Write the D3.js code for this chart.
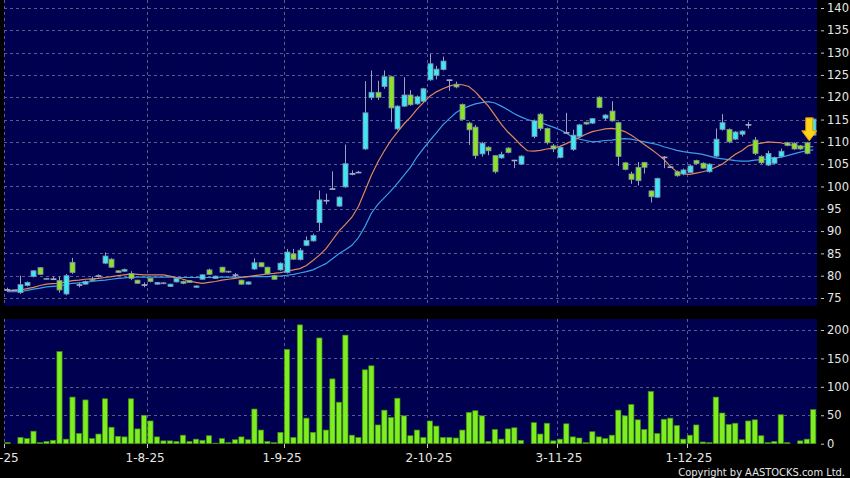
<!DOCTYPE html>
<html>
<head>
<meta charset="utf-8">
<script src="https://cdn.jsdelivr.net/npm/d3@7"></script>
<style>
body { margin: 0; background: #000; }
svg { display: block; font-family: "DejaVu Sans", sans-serif; }
</style>
</head>
<body>
<div id="chart"></div>
<script>
// x axis date labels and the bar index they sit on
var dateLabels = ["2-7-25", "1-8-25", "1-9-25", "2-10-25", "3-11-25", "1-12-25"];
var dateIndex = [0, 22, 43, 65, 85, 105];

var priceTicks = [75, 80, 85, 90, 95, 100, 105, 110, 115, 120, 125, 130, 135, 140];
var volTicks = [0, 50, 100, 150, 200];

// daily candles (null = no trading)
var openP = [76.9,76.8,76.2,77.8,79.8,81.8,79.2,79.3,78.9,75.9,
    83.0,78.0,78.1,79.2,80.0,82.8,83.7,81.1,81.0,80.5,
    79.0,78.0,79.4,78.1,78.4,77.6,78.6,78.7,78.9,77.4,
    79.2,81.3,79.4,81.9,81.0,80.2,79.0,78.1,81.5,82.9,
    81.9,80.0,81.3,80.7,84.9,83.6,86.8,87.8,91.9,96.8,
    99.5,95.6,99.9,102.9,103.2,108.4,119.9,121.1,122.4,124.6,
    112.9,118.0,120.5,118.5,119.1,123.9,124.9,126.2,123.8,122.9,
    118.4,114.2,113.3,107.3,108.8,106.9,106.4,108.6,105.8,105.0,
    null,111.2,116.2,113.0,109.1,106.5,112.0,108.3,111.2,114.4,
    114.2,120.0,115.3,116.9,114.3,105.3,102.8,104.3,105.4,99.0,
    97.6,106.6,104.4,103.3,102.8,103.1,105.8,105.2,103.3,106.8,
    112.8,112.8,110.6,111.7,113.9,110.4,106.7,104.8,105.2,106.7,
    109.8,109.7,109.1,109.8,111.5];
var highP = [77.3,76.8,80.0,78.7,81.2,81.9,79.5,79.8,79.8,80.4,
    84.0,78.4,78.9,79.8,80.3,85.2,83.9,81.2,81.6,81.0,
    79.1,78.5,79.5,78.6,78.6,78.2,79.5,78.9,79.0,77.8,
    80.3,81.6,80.0,82.0,81.1,80.6,79.1,78.7,83.9,83.0,
    82.0,80.2,83.0,86.0,86.0,86.2,88.8,89.4,99.1,98.4,
    103.4,97.8,109.4,103.6,103.5,123.6,126.0,123.7,126.0,124.8,
    118.2,124.5,121.6,120.4,122.1,129.7,127.0,129.1,124.0,123.5,
    118.6,114.5,113.8,110.0,109.0,107.0,107.8,108.8,106.0,107.0,
    null,115.0,116.5,113.2,109.5,109.0,116.5,112.7,114.0,114.5,
    115.3,120.2,116.2,119.1,114.5,105.5,103.3,105.5,105.5,99.1,
    102.0,106.8,104.6,103.6,104.0,104.8,106.0,105.4,105.2,113.0,
    116.2,113.0,112.4,112.6,114.5,111.1,107.0,108.0,106.7,108.5,
    110.0,109.9,109.3,110.0,115.4];
var lowP = [76.4,76.8,75.9,77.6,79.6,80.2,79.1,79.0,76.2,75.6,
    80.4,77.4,78.0,78.8,79.6,82.6,81.8,80.6,80.9,79.0,
    78.2,77.4,78.5,78.0,78.1,77.5,78.5,78.1,78.4,77.3,
    79.1,80.2,79.3,80.7,80.7,79.6,78.0,78.0,81.3,81.9,
    80.3,79.1,81.1,80.5,83.5,83.4,86.6,87.6,90.0,96.0,
    99.4,95.4,99.7,102.5,103.0,108.2,119.4,119.4,121.9,114.4,
    112.7,117.8,118.1,118.3,118.9,123.7,124.0,126.0,121.4,122.0,
    114.8,109.3,106.2,106.7,107.0,102.9,106.2,107.4,104.1,104.8,
    null,110.8,112.5,109.4,107.7,106.3,111.8,108.0,110.9,113.8,
    114.0,117.5,114.8,114.5,104.6,103.6,100.6,100.2,102.9,96.4,
    97.4,104.1,104.2,102.2,102.5,103.0,104.9,104.0,103.1,106.5,
    112.5,109.7,110.4,111.2,113.0,107.0,105.0,104.6,105.0,106.5,
    109.0,108.2,108.2,107.2,111.3];
var closeP = [76.8,76.8,78.0,78.5,81.1,80.3,79.4,79.2,76.8,80.0,
    80.7,78.0,78.7,78.9,80.0,84.4,81.9,80.7,81.4,79.4,
    78.3,78.0,78.7,78.5,78.2,78.1,79.4,78.3,78.5,77.7,
    80.2,80.3,79.9,80.8,80.8,80.2,78.1,78.6,82.9,82.0,
    80.4,79.2,82.8,85.3,83.7,85.7,87.9,89.0,97.0,96.9,
    99.5,97.6,105.1,102.8,103.2,116.5,121.1,120.0,124.6,117.6,
    118.0,120.5,118.3,120.1,121.9,127.5,126.3,128.1,123.9,122.3,
    115.0,112.7,106.9,109.7,108.0,103.3,107.2,107.6,105.9,106.8,
    null,114.7,113.0,109.8,108.4,108.8,112.1,111.5,113.8,114.0,
    115.2,117.7,116.0,114.7,106.7,103.8,101.6,101.3,104.3,97.7,
    101.8,106.6,104.4,102.4,103.7,104.6,105.1,104.1,105.0,110.6,
    114.3,110.0,112.2,112.4,113.9,107.4,105.3,107.4,106.5,107.9,
    109.2,108.4,108.4,107.4,115.1];

// turnover bars
var volume = [2,0,11,9,22,2,4,6,162,8,
    82,18,77,9,17,79,29,13,12,79,
    26,50,40,12,5,5,4,15,4,8,
    6,14,1,9,2,7,12,7,61,24,
    4,2,20,166,11,209,45,20,186,24,
    114,73,191,15,11,130,137,33,59,46,
    80,49,14,24,11,40,31,11,11,10,
    24,55,58,49,4,25,8,26,28,6,
    0,37,17,36,5,8,35,12,10,2,
    21,12,9,15,59,49,69,42,25,92,
    18,43,45,32,8,15,33,3,2,82,
    54,34,36,7,40,42,14,2,4,51,
    2,0,5,8,60];

// moving averages as drawn (orange = short, blue = long)
var maShort = [76.6,76.7,76.8,77.1,77.4,77.8,78.1,78.2,78.3,78.6,
    78.9,79.0,79.2,79.3,79.4,79.6,79.8,80.0,80.2,80.4,
    80.3,80.2,80.2,80.2,80.2,79.9,79.6,79.2,78.8,78.5,
    78.3,78.5,78.7,79.0,79.2,79.4,79.6,79.8,80.0,80.2,
    80.4,80.5,80.7,81.0,81.3,81.6,82.3,83.4,84.6,86.0,
    88.0,90.0,91.5,93.1,95.5,99.0,102.5,105.5,108.0,110.3,
    112.2,114.0,115.5,117.3,118.8,120.2,121.2,121.9,122.5,122.9,
    122.8,122.4,121.2,119.6,118.0,116.0,113.9,112.2,110.8,109.3,
    108.0,107.9,108.1,108.4,108.6,109.0,109.6,110.3,111.0,111.7,
    112.3,112.6,112.9,113.0,112.8,112.3,111.5,110.5,109.4,108.4,
    107.3,106.1,104.5,103.3,102.8,102.7,103.0,103.3,103.7,104.3,
    105.0,106.1,107.2,108.0,109.1,109.5,109.7,110.0,109.9,109.8,
    109.4,109.2,108.9,108.9,108.9];
var maLong = [76.4,76.4,76.4,76.7,77.0,77.2,77.5,77.6,77.7,78.0,
    78.3,78.4,78.5,78.7,78.9,79.0,79.2,79.4,79.5,79.7,
    79.7,79.7,79.7,79.7,79.7,79.7,79.6,79.6,79.6,79.6,
    79.6,79.6,79.6,79.7,79.7,79.7,79.7,79.8,79.8,79.8,
    79.8,79.9,79.9,80.1,80.3,80.6,80.9,81.3,82.0,82.7,
    83.8,84.9,85.8,86.8,88.5,91.0,94.0,96.0,97.5,99.0,
    100.7,102.5,104.3,106.6,108.5,110.3,112.0,113.8,115.2,116.5,
    117.4,118.0,118.5,118.8,119.0,118.7,118.0,117.2,116.3,115.6,
    115.0,114.6,114.4,113.8,113.3,112.7,112.0,111.0,110.6,110.3,
    110.0,110.1,110.3,110.4,110.6,110.7,110.6,110.3,110.0,109.7,
    109.4,108.9,108.5,108.1,107.8,107.6,107.4,107.2,106.8,106.4,
    106.2,106.0,105.8,105.7,105.7,105.9,106.0,106.2,106.4,106.5,
    106.9,107.3,107.7,108.0,108.2];

// layout
var width = 850, height = 478;
var plotLeft = 4, plotRight = 817;
var priceTop = 0, priceBottom = 306;
var volTop = 319, volBottom = 444;
var bodyW = 5;

var svg = d3.select("#chart")
    .append("svg")
        .attr("width", width)
        .attr("height", height)
        .style("background", "#000");

var x = d3.scaleLinear()
    .domain([-0.5, openP.length - 0.5])
    .range([4.25, 816.5]);

var y = d3.scaleLinear()
    .domain([75, 140])
    .range([298, 8]);

var yVol = d3.scaleLinear()
    .domain([0, 200])
    .range([443.7, 330]);

var slot = x(1) - x(0);

// clip paths for the two panels
var defs = svg.append("defs");
defs.append("clipPath").attr("id", "clipPrice")
    .append("rect")
    .attr("x", plotLeft).attr("y", priceTop)
    .attr("width", plotRight - plotLeft).attr("height", priceBottom - priceTop);
defs.append("clipPath").attr("id", "clipVol")
    .append("rect")
    .attr("x", plotLeft).attr("y", volTop)
    .attr("width", plotRight - plotLeft).attr("height", volBottom - volTop);

///////// panel backgrounds ////////
svg.append("rect")
    .attr("x", plotLeft).attr("y", priceTop)
    .attr("width", plotRight - plotLeft).attr("height", priceBottom - priceTop)
    .style("fill", "#000050");
svg.append("rect")
    .attr("x", plotLeft).attr("y", volTop)
    .attr("width", plotRight - plotLeft).attr("height", volBottom - volTop)
    .style("fill", "#000050");

///////// grid ////////
var gridColor = "#5a5a8c";
var price_g = svg.append("g").attr("clip-path", "url(#clipPrice)");
var vol_g = svg.append("g").attr("clip-path", "url(#clipVol)");

price_g.selectAll(".hgrid")
    .data(priceTicks)
    .enter().append("line")
        .attr("x1", plotLeft).attr("x2", plotRight)
        .attr("y1", function(d) { return Math.round(y(d)) + 0.5; })
        .attr("y2", function(d) { return Math.round(y(d)) + 0.5; })
        .style("stroke", gridColor)
        .style("stroke-dasharray", "3,3");

vol_g.selectAll(".hgrid")
    .data(volTicks.slice(1))
    .enter().append("line")
        .attr("x1", plotLeft).attr("x2", plotRight)
        .attr("y1", function(d) { return Math.round(yVol(d)) + 0.5; })
        .attr("y2", function(d) { return Math.round(yVol(d)) + 0.5; })
        .style("stroke", gridColor)
        .style("stroke-dasharray", "3,3");

function gridX(i) { return Math.round(x(i) - slot / 2) + 0.5; }

[price_g, vol_g].forEach(function(g, k) {
    g.selectAll(".vgrid")
        .data(dateIndex)
        .enter().append("line")
            .attr("x1", gridX).attr("x2", gridX)
            .attr("y1", k == 0 ? priceTop : volTop)
            .attr("y2", k == 0 ? priceBottom : volBottom)
            .style("stroke", gridColor)
            .style("stroke-dasharray", "3,3");
});

///////// volume bars ////////
vol_g.selectAll(".vbar")
    .data(volume)
    .enter().append("rect")
        .attr("x", function(d, i) { return x(i) - 2.6; })
        .attr("y", function(d) { return yVol(d); })
        .attr("width", 5.2)
        .attr("height", function(d) { return yVol(0) - yVol(d); })
        .style("fill", "#7fee20")
        .style("stroke", "#3f8c14")
        .style("stroke-width", 0.7);

///////// moving averages ////////
var maLine = function(arr) {
    return d3.line()
        .x(function(d, i) { return x(i); })
        .y(function(d) { return y(d); })(arr);
};

price_g.append("path")
    .attr("d", maLine(maLong))
    .style("fill", "none")
    .style("stroke", "#3aa0e6")
    .style("stroke-width", 1.2);

price_g.append("path")
    .attr("d", maLine(maShort))
    .style("fill", "none")
    .style("stroke", "#e08858")
    .style("stroke-width", 1.2);

///////// candles ////////
var idx = d3.range(openP.length).filter(function(i) { return openP[i] !== null; });

var candle = price_g.selectAll(".candle")
    .data(idx)
    .enter().append("g");

candle.append("line")
    .attr("x1", function(i) { return Math.round(x(i)) + 0.5; })
    .attr("x2", function(i) { return Math.round(x(i)) + 0.5; })
    .attr("y1", function(i) { return y(highP[i]); })
    .attr("y2", function(i) { return y(lowP[i]); })
    .style("stroke", "#98a2bc")
    .style("stroke-width", 1);

candle.append("rect")
    .attr("x", function(i) { return Math.round(x(i)) + 0.5 - bodyW / 2; })
    .attr("y", function(i) { return y(Math.max(openP[i], closeP[i])); })
    .attr("width", bodyW)
    .attr("height", function(i) { return Math.max(0.8, Math.abs(y(openP[i]) - y(closeP[i]))); })
    .style("fill", function(i) {
        if (Math.abs(closeP[i] - openP[i]) < 0.15) return "#a4aac4";
        return closeP[i] > openP[i] ? "#3fe6f4" : "#8ce226";
    })
    .style("stroke", function(i) {
        if (Math.abs(closeP[i] - openP[i]) < 0.15) return "#a4aac4";
        return "#7d90a8";
    })
    .style("stroke-width", 0.8);

///////// marker arrow on the latest signal ////////
var ax = x(123) + 2.5, at = y(highP[123]) - 1;
svg.append("path")
    .attr("d", "M" + (ax - 3.5) + "," + (at - 23) + "L" + (ax + 3.5) + "," + (at - 23) +
        "L" + (ax + 3.5) + "," + (at - 10) + "L" + (ax + 7.5) + "," + (at - 10) +
        "L" + ax + "," + at + "L" + (ax - 7.5) + "," + (at - 10) +
        "L" + (ax - 3.5) + "," + (at - 10) + "Z")
    .style("fill", "#ffd21c")
    .style("stroke", "#e49a00")
    .style("stroke-width", 1);

///////// axes ////////
var yAxis = svg.append("g")
    .attr("transform", "translate(" + (plotRight + 4) + ",0)")
    .call(d3.axisRight(y).tickValues(priceTicks).tickSize(3).tickPadding(3));

var vAxis = svg.append("g")
    .attr("transform", "translate(" + (plotRight + 4) + ",0)")
    .call(d3.axisRight(yVol).tickValues(volTicks).tickSize(3).tickPadding(3));

[yAxis, vAxis].forEach(function(a) {
    a.select(".domain").remove();
    a.selectAll("line").style("stroke", "#c8c8c8");
    a.selectAll("text")
        .style("fill", "#e6e6e6")
        .style("font-size", "11.5px")
        .style("font-family", "DejaVu Sans, sans-serif");
});

var xAxis = svg.append("g");
xAxis.selectAll(".xtick")
    .data(dateIndex)
    .enter().append("line")
        .attr("x1", gridX).attr("x2", gridX)
        .attr("y1", volBottom).attr("y2", volBottom + 4)
        .style("stroke", "#c8c8c8");

// first label is cut by the left edge, as in the original
xAxis.selectAll(".xlabel")
    .data(dateIndex)
    .enter().append("text")
        .attr("x", function(d, k) { return k == 0 ? -20.5 : gridX(d) - 22; })
        .attr("y", 462)
        .text(function(d, k) { return dateLabels[k]; })
        .style("fill", "#e6e6e6")
        .style("font-size", "12px")
        .style("text-anchor", "start");

svg.append("text")
    .attr("x", 845)
    .attr("y", 476)
    .text("Copyright by AASTOCKS.com Ltd.")
    .style("fill", "#e6e6e6")
    .style("font-size", "11px")
    .style("font-family", "DejaVu Sans Condensed, DejaVu Sans, sans-serif")
    .style("font-stretch", "condensed")
    .style("text-anchor", "end");
</script>
</body>
</html>
